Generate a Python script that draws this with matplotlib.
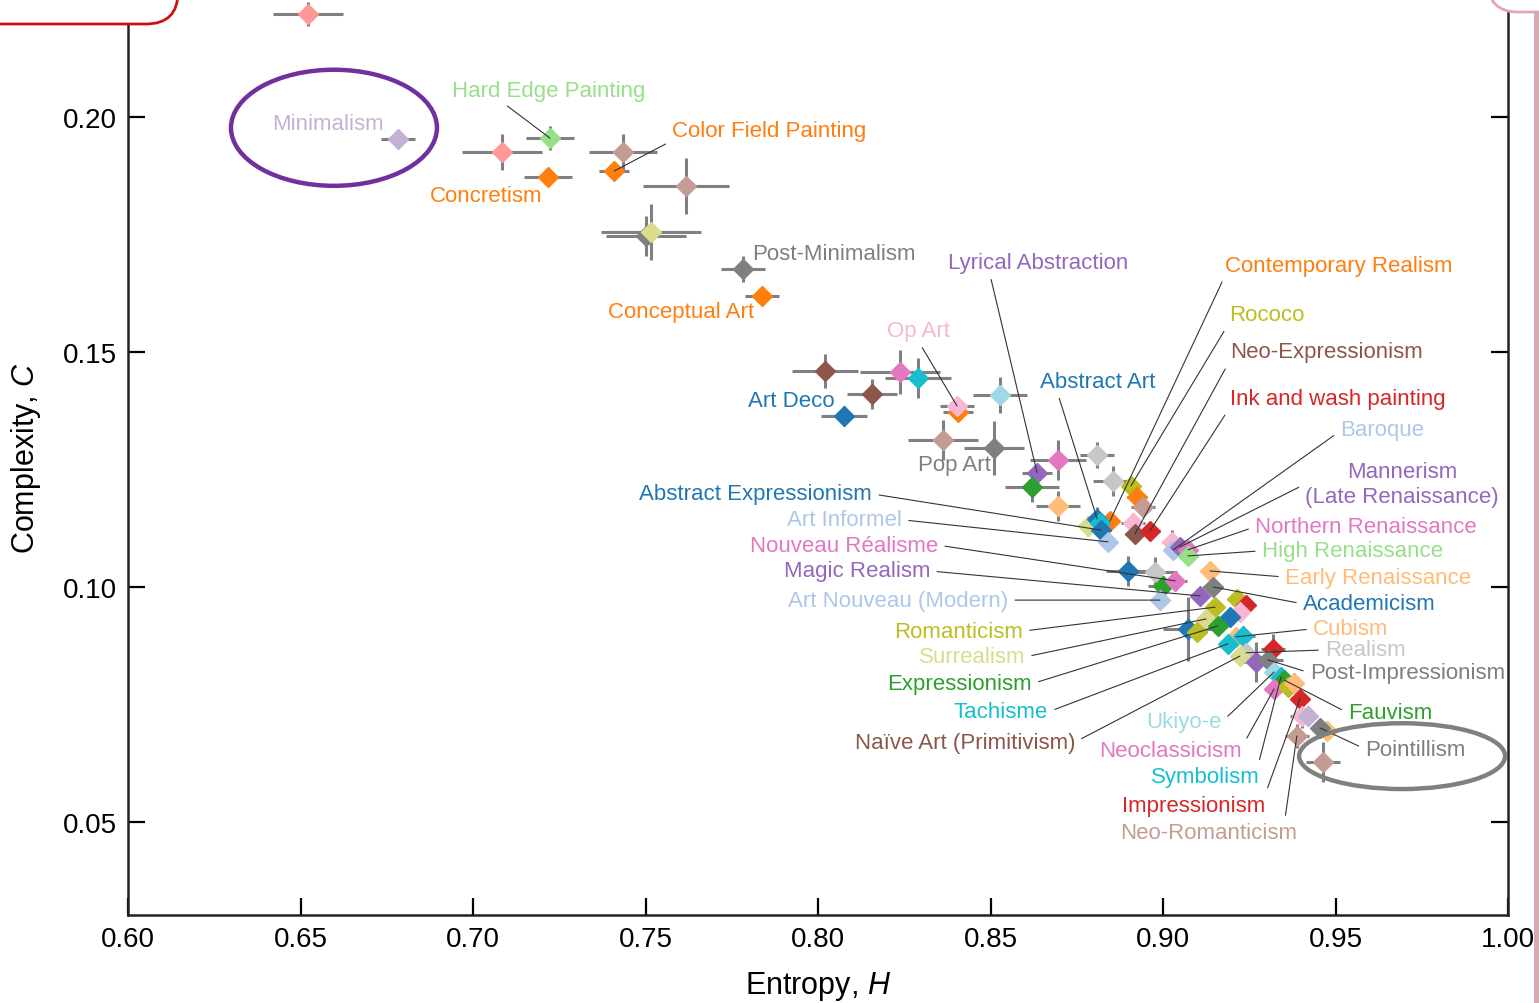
import matplotlib.pyplot as plt
from matplotlib.patches import Ellipse, FancyBboxPatch, Rectangle

plt.rcParams['font.family'] = ['Liberation Sans', 'DejaVu Sans']
plt.rcParams['mathtext.fontset'] = 'custom'
plt.rcParams['mathtext.rm'] = 'Liberation Sans'
plt.rcParams['mathtext.it'] = 'Liberation Sans:italic'

# Data: one entry per art style ('' = unlabeled point)
styles = [
    '', 'Minimalism', '', 'Hard Edge Painting', '', 'Concretism',
    'Color Field Painting', '', '', '', 'Post-Minimalism', 'Conceptual Art',
    '', 'Art Deco', '', '', '', '', 'Op Art', '', 'Pop Art', '',
    'Lyrical Abstraction', '', '', '', '', '', 'Rococo', '', '', '',
    'Contemporary Realism', 'Abstract Art', '', 'Abstract Expressionism', '',
    'Neo-Expressionism', 'Ink and wash painting', 'Art Informel', '',
    'Baroque', 'Mannerism\n(Late Renaissance)', 'Northern Renaissance',
    'High Renaissance', 'Early Renaissance', '', '', '', 'Nouveau Réalisme',
    'Art Nouveau (Modern)', 'Magic Realism', 'Academicism', 'Romanticism',
    'Surrealism', '', '', '', '', 'Expressionism', '', '', 'Cubism', '',
    'Tachisme', 'Realism', 'Naïve Art (Primitivism)', '', '',
    'Post-Impressionism', 'Ukiyo-e', 'Symbolism', 'Fauvism', 'Neoclassicism',
    '', '', 'Impressionism', '', '', 'Neo-Romanticism', '', 'Pointillism', '',
]

entropy = [
    0.6522, 0.6783, 0.7084, 0.7223, 0.7435, 0.7217, 0.7409, 0.7617, 0.7501,
    0.7516, 0.7783, 0.7838, 0.8020, 0.8075, 0.8157, 0.8238, 0.8290, 0.8406,
    0.8403, 0.8362, 0.8510, 0.8528, 0.8635, 0.8696, 0.8620, 0.8696, 0.8809,
    0.8855, 0.8907, 0.8925, 0.8942, 0.8783, 0.8846, 0.8809, 0.8817, 0.8820,
    0.8913, 0.8919, 0.8962, 0.8841, 0.9026, 0.9030, 0.9049, 0.9072, 0.9072,
    0.9136, 0.8899, 0.8977, 0.9000, 0.9035, 0.8991, 0.9107, 0.9145, 0.9151,
    0.9125, 0.9214, 0.9241, 0.9223, 0.9194, 0.9159, 0.9072, 0.9099, 0.9212,
    0.9232, 0.9188, 0.9241, 0.9223, 0.9319, 0.9270, 0.9304, 0.9322, 0.9342,
    0.9351, 0.9322, 0.9362, 0.9380, 0.9397, 0.9403, 0.9420, 0.9388, 0.9475,
    0.9455, 0.9464,
]

complexity = [
    0.2219, 0.1953, 0.1926, 0.1955, 0.1926, 0.1872, 0.1885, 0.1853, 0.1747,
    0.1755, 0.1677, 0.1619, 0.1460, 0.1364, 0.1411, 0.1457, 0.1445, 0.1372,
    0.1385, 0.1313, 0.1296, 0.1409, 0.1243, 0.1270, 0.1213, 0.1172, 0.1281,
    0.1226, 0.1215, 0.1191, 0.1170, 0.1130, 0.1140, 0.1145, 0.1136, 0.1121,
    0.1136, 0.1113, 0.1119, 0.1096, 0.1096, 0.1079, 0.1085, 0.1079, 0.1066,
    0.1034, 0.1034, 0.1032, 0.1002, 0.1013, 0.0972, 0.0981, 0.1000, 0.0957,
    0.0932, 0.0974, 0.0962, 0.0947, 0.0936, 0.0917, 0.0911, 0.0904, 0.0894,
    0.0896, 0.0879, 0.0860, 0.0853, 0.0868, 0.0840, 0.0845, 0.0819, 0.0809,
    0.0802, 0.0783, 0.0787, 0.0796, 0.0762, 0.0726, 0.0726, 0.0683, 0.0694,
    0.0700, 0.0628,
]

entropy_err = [
    0.0101, 0.0049, 0.0116, 0.0070, 0.0099, 0.0070, 0.0043, 0.0125, 0.0116,
    0.0145, 0.0064, 0.0049, 0.0096, 0.0067, 0.0072, 0.0116, 0.0096, 0.0043,
    0.0049, 0.0101, 0.0087, 0.0078, 0.0043, 0.0081, 0.0078, 0.0064, 0.0049,
    0.0058, 0.0023, 0.0029, 0.0035, 0.0029, 0.0023, 0.0029, 0.0020, 0.0029,
    0.0035, 0.0029, 0.0029, 0.0023, 0.0029, 0.0015, 0.0020, 0.0020, 0.0015,
    0.0015, 0.0064, 0.0064, 0.0043, 0.0035, 0.0015, 0.0023, 0.0029, 0.0020,
    0.0020, 0.0029, 0.0020, 0.0020, 0.0020, 0.0020, 0.0072, 0.0029, 0.0015,
    0.0035, 0.0023, 0.0029, 0.0020, 0.0035, 0.0043, 0.0043, 0.0020, 0.0020,
    0.0020, 0.0020, 0.0020, 0.0023, 0.0023, 0.0035, 0.0023, 0.0035, 0.0015,
    0.0023, 0.0049,
]

complexity_err = [
    0.0026, 0.0006, 0.0038, 0.0026, 0.0038, 0.0013, 0.0011, 0.0060, 0.0043,
    0.0060, 0.0028, 0.0013, 0.0036, 0.0021, 0.0032, 0.0047, 0.0043, 0.0017,
    0.0017, 0.0043, 0.0057, 0.0038, 0.0017, 0.0043, 0.0032, 0.0032, 0.0028,
    0.0032, 0.0013, 0.0017, 0.0021, 0.0021, 0.0013, 0.0026, 0.0015, 0.0026,
    0.0021, 0.0017, 0.0017, 0.0011, 0.0026, 0.0011, 0.0013, 0.0013, 0.0011,
    0.0011, 0.0032, 0.0032, 0.0021, 0.0021, 0.0011, 0.0013, 0.0017, 0.0013,
    0.0013, 0.0017, 0.0013, 0.0013, 0.0017, 0.0013, 0.0068, 0.0017, 0.0011,
    0.0021, 0.0013, 0.0017, 0.0013, 0.0032, 0.0043, 0.0032, 0.0013, 0.0013,
    0.0013, 0.0013, 0.0017, 0.0021, 0.0017, 0.0026, 0.0021, 0.0026, 0.0011,
    0.0013, 0.0043,
]

point_colors = [
    '#ff9896', '#c5b0d5', '#ff9896', '#98df8a', '#c49c94', '#ff7f0e',
    '#ff7f0e', '#c49c94', '#7f7f7f', '#dbdb8d', '#7f7f7f', '#ff7f0e',
    '#8c564b', '#1f77b4', '#8c564b', '#e377c2', '#17becf', '#ff7f0e',
    '#f7b6d2', '#c49c94', '#7f7f7f', '#9edae5', '#9467bd', '#e377c2',
    '#2ca02c', '#ffbb78', '#c7c7c7', '#c7c7c7', '#bcbd22', '#ff7f0e',
    '#c49c94', '#dbdb8d', '#ff7f0e', '#1f77b4', '#17becf', '#1f77b4',
    '#f7b6d2', '#8c564b', '#d62728', '#aec7e8', '#f7b6d2', '#aec7e8',
    '#9467bd', '#e377c2', '#98df8a', '#ffbb78', '#1f77b4', '#c7c7c7',
    '#2ca02c', '#e377c2', '#aec7e8', '#9467bd', '#7f7f7f', '#bcbd22',
    '#dbdb8d', '#bcbd22', '#d62728', '#f7b6d2', '#1f77b4', '#2ca02c',
    '#1f77b4', '#bcbd22', '#ffbb78', '#17becf', '#17becf', '#c7c7c7',
    '#dbdb8d', '#d62728', '#9467bd', '#7f7f7f', '#9edae5', '#17becf',
    '#2ca02c', '#e377c2', '#bcbd22', '#ffbb78', '#d62728', '#f7b6d2',
    '#c5b0d5', '#c49c94', '#ffbb78', '#7f7f7f', '#c49c94',
]

label_color_override = {'Academicism': '#1f77b4',
                        'Naïve Art (Primitivism)': '#8c564b'}

# Label layout: text position (data coords), alignment, leader-line anchor on text
label_layout = {
    'Minimalism': (0.6742, 0.1987, 'right', None),
    'Hard Edge Painting': (0.6939, 0.2057, 'left', (0.25, 0.0)),
    'Color Field Painting': (0.7577, 0.1972, 'left', (0.0, 0.0)),
    'Concretism': (0.7200, 0.1832, 'right', None),
    'Post-Minimalism': (0.7809, 0.1709, 'left', None),
    'Conceptual Art': (0.7814, 0.1587, 'right', None),
    'Op Art': (0.8200, 0.1545, 'left', (0.5, 0.0)),
    'Art Deco': (0.8049, 0.1396, 'right', None),
    'Pop Art': (0.8290, 0.1260, 'left', None),
    'Lyrical Abstraction': (0.8377, 0.1691, 'left', (0.23, 0.0)),
    'Abstract Art': (0.8643, 0.1438, 'left', (0.15, 0.0)),
    'Contemporary Realism': (0.9180, 0.1685, 'left', (0.0, 0.0)),
    'Rococo': (0.9191, 0.1579, 'left', (0.0, 0.1)),
    'Neo-Expressionism': (0.9194, 0.1500, 'left', (0.0, 0.1)),
    'Ink and wash painting': (0.9194, 0.1400, 'left', (0.0, 0.1)),
    'Baroque': (0.9513, 0.1336, 'left', (0.0, 0.4)),
    'Mannerism\n(Late Renaissance)': (0.9693, 0.1219, 'center', (0.0, 0.5)),
    'Northern Renaissance': (0.9267, 0.1128, 'left', (0.0, 0.5)),
    'High Renaissance': (0.9287, 0.1077, 'left', (0.0, 0.5)),
    'Early Renaissance': (0.9354, 0.1021, 'left', (0.0, 0.5)),
    'Academicism': (0.9406, 0.0964, 'left', (0.0, 0.5)),
    'Cubism': (0.9435, 0.0911, 'left', (0.0, 0.5)),
    'Realism': (0.9470, 0.0866, 'left', (0.0, 0.5)),
    'Post-Impressionism': (0.9426, 0.0817, 'left', (0.0, 0.5)),
    'Fauvism': (0.9536, 0.0732, 'left', (0.0, 0.5)),
    'Pointillism': (0.9586, 0.0655, 'left', (0.0, 0.5)),
    'Ukiyo-e': (0.9171, 0.0713, 'right', (1.0, 0.5)),
    'Neoclassicism': (0.9229, 0.0651, 'right', (1.0, 0.7)),
    'Symbolism': (0.9281, 0.0596, 'right', (0.98, 1.0)),
    'Impressionism': (0.9296, 0.0536, 'right', (1.0, 1.0)),
    'Neo-Romanticism': (0.9388, 0.0477, 'right', (0.93, 1.0)),
    'Naïve Art (Primitivism)': (0.8745, 0.0670, 'right', (1.0, 0.5)),
    'Tachisme': (0.8667, 0.0734, 'right', (1.0, 0.5)),
    'Expressionism': (0.8620, 0.0794, 'right', (1.0, 0.5)),
    'Surrealism': (0.8600, 0.0851, 'right', (1.0, 0.5)),
    'Romanticism': (0.8594, 0.0906, 'right', (1.0, 0.5)),
    'Art Nouveau (Modern)': (0.8551, 0.0972, 'right', (1.0, 0.5)),
    'Magic Realism': (0.8325, 0.1034, 'right', (1.0, 0.5)),
    'Nouveau Réalisme': (0.8348, 0.1089, 'right', (1.0, 0.5)),
    'Art Informel': (0.8243, 0.1143, 'right', (1.0, 0.5)),
    'Abstract Expressionism': (0.8157, 0.1198, 'right', (1.0, 0.5)),
}

x_ticks = [0.60, 0.65, 0.70, 0.75, 0.80, 0.85, 0.90, 0.95, 1.00]
y_ticks = [0.05, 0.10, 0.15, 0.20]

# Create chart
fig = plt.figure(figsize=(15.39, 10.04), dpi=100)
ax = fig.add_axes([128 / 1539, 88 / 1004, 1380 / 1539, 916 / 1004])

ax.errorbar(entropy, complexity, xerr=entropy_err, yerr=complexity_err,
            fmt='none', ecolor='#808080', elinewidth=2.2, capsize=0,
            zorder=2, clip_on=False)
for x, y, c in zip(entropy, complexity, point_colors):
    ax.plot(x, y, marker='D', ms=10, color=c, mec=c, zorder=3, clip_on=False)

# Labels with leader lines
for name, x, y, c in zip(styles, entropy, complexity, point_colors):
    if not name:
        continue
    tx, ty, ha, relpos = label_layout[name]
    color = label_color_override.get(name, c)
    if relpos is None:
        ax.text(tx, ty, name, ha=ha, va='center', color=color, fontsize=16,
                zorder=4)
    else:
        ax.annotate(name, xy=(x, y), xytext=(tx, ty), ha=ha, va='center',
                    color=color, fontsize=16, multialignment='center',
                    linespacing=1.25, zorder=4,
                    arrowprops=dict(arrowstyle='-', color='#333333', lw=0.8,
                                    relpos=relpos, shrinkA=3, shrinkB=0))

# Highlight ellipses
ax.add_patch(Ellipse((0.6597, 0.1977), 0.0597, 0.0247, fill=False,
                     ec='#7030a0', lw=3.2, zorder=5, clip_on=False))
ax.add_patch(Ellipse((0.9693, 0.0640), 0.0597, 0.0140, fill=False,
                     ec='#808080', lw=3.2, zorder=5, clip_on=False))

# Axes
ax.set_xlim(0.60, 1.00)
ax.set_ylim(0.0302, 0.2251)
ax.set_xticks(x_ticks)
ax.set_xticklabels([f'{t:.2f}' for t in x_ticks])
ax.set_yticks(y_ticks)
ax.set_yticklabels([f'{t:.2f}' for t in y_ticks])
ax.tick_params(direction='in', length=12, width=1.6, labelsize=20,
               right=True, top=False, pad=8)
for side in ['left', 'right', 'bottom']:
    ax.spines[side].set_linewidth(1.8)
    ax.spines[side].set_color('#222222')
ax.spines['top'].set_visible(False)

ax.set_xlabel('Entropy, $H$', fontsize=22, labelpad=12)
ax.set_ylabel('Complexity, $C$', fontsize=22, labelpad=14)

# Slide decorations around the chart
over = fig.add_axes([0, 0, 1, 1], zorder=10)
over.set_xlim(0, 1539)
over.set_ylim(1004, 0)
over.axis('off')
over.add_patch(FancyBboxPatch((-100, -100), 278, 125,
                              boxstyle='round,pad=0,rounding_size=32',
                              fc='white', ec='#cc1111', lw=2))
over.add_patch(FancyBboxPatch((1488, -100), 300, 113,
                              boxstyle='round,pad=0,rounding_size=30',
                              fc='white', ec='#e3a3ba', lw=2))
over.add_patch(Rectangle((1534, 14), 6, 990, fc='#d9a9b0', ec='none'))

# Save image
fig.savefig('out.png', dpi=100)
